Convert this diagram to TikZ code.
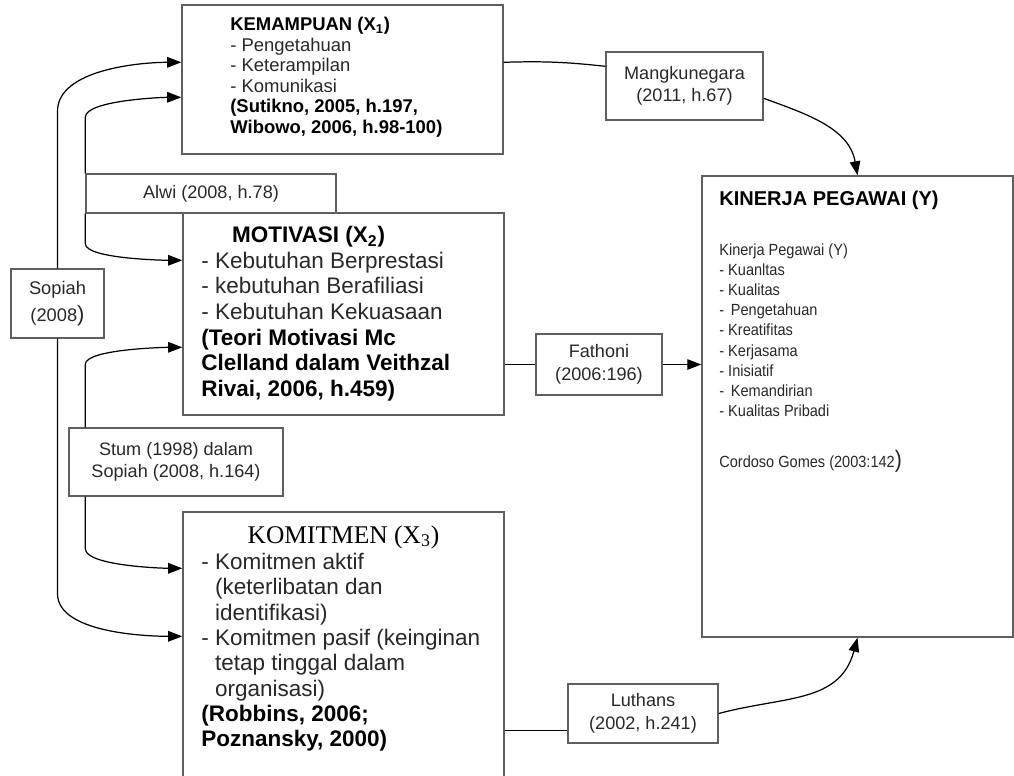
\documentclass[tikz,border=0pt]{standalone}
\usepackage{fontspec}
\setmainfont{Liberation Sans}
\newfontfamily\timesfont{Liberation Serif}
\newfontfamily\narrowfont[FakeStretch=0.9]{Liberation Sans}
\usetikzlibrary{arrows.meta,fit}
\definecolor{boxgray}{RGB}{95,95,95}
\definecolor{textgray}{RGB}{40,40,40}

\begin{document}
\begin{tikzpicture}[x=0.02cm, y=0.02cm,
                    main box/.style={draw=boxgray, line width=0.8pt, inner sep=0pt},
                    ref box/.style={draw=boxgray, line width=0.8pt, inner sep=0pt, align=center, text=textgray,
                                    font=\fontsize{10.3}{12.8}\selectfont},
                    box text/.style={anchor=north west, inner sep=0pt, align=left, text=textgray},
                    link/.style={line width=0.7pt},
                    arrow/.style={line width=0.7pt, -{Triangle[length=8pt,width=6pt]}}]

  \useasboundingbox (0,0) rectangle (1014,-775);
  \clip (0,0) rectangle (1014,-775);

  \node[main box, fit={(182,-5) (503,-154)}] (kem) {};
  \node[main box, fit={(183,-213) (504,-415)}] (mot) {};
  \node[main box, fit={(183,-512) (504,-800)}] (kom) {};
  \node[main box, fit={(702,-176) (1013,-637)}] (kin) {};

  \node[ref box, minimum width=5cm, minimum height=0.78cm] (alwi) at (211,-193.5) {Alwi (2008, h.78)};
  \node[ref box, minimum width=1.86cm, minimum height=1.38cm, font=\fontsize{10.4}{15.5}\selectfont] (sop) at (57.5,-303.5)
    {Sopiah\\(2008{\fontsize{12.5}{12.5}\selectfont)}};
  \node[ref box, minimum width=4.28cm, minimum height=1.36cm] (stum) at (176,-462) {Stum (1998) dalam\\Sopiah (2008, h.164)};
  \node[ref box, minimum width=3.14cm, minimum height=1.36cm] (mang) at (684.5,-86) {Mangkunegara\\(2011, h.67)};
  \node[ref box, minimum width=2.52cm, minimum height=1.22cm] (fat) at (599,-364.5) {Fathoni\\(2006:196)};
  \node[ref box, minimum width=3cm, minimum height=1.18cm] (lut) at (643,-713.5) {Luthans\\(2002, h.241)};

  \node[box text, font=\fontsize{10.5}{11.7}\selectfont] (kemtext) at (230,-17)
    {\textbf{\color{black}KEMAMPUAN (X\textsubscript{1})}\\
     - Pengetahuan\\
     - Keterampilan\\
     - Komunikasi\\
     \textbf{\color{black}(Sutikno, 2005, h.197,}\\
     \textbf{\color{black}Wibowo, 2006, h.98-100)}};

  \node[box text, font=\fontsize{12.8}{14.6}\selectfont] (mottext) at (201,-226)
    {\hspace*{17.5pt}\textbf{\color{black}MOTIVASI (X\textsubscript{2})}\\
     - Kebutuhan Berprestasi\\
     - kebutuhan Berafiliasi\\
     - Kebutuhan Kekuasaan\\
     \textbf{\color{black}(Teori Motivasi Mc}\\
     \textbf{\color{black}Clelland dalam Veithzal}\\
     \textbf{\color{black}Rivai, 2006, h.459)}};

  \node[anchor=base, inner sep=0pt, font=\timesfont\fontsize{14.5}{16}\selectfont] (komtitle) at (343.5,-543)
    {KOMITMEN (X\textsubscript{3})};
  \node[box text, font=\fontsize{12.8}{14.4}\selectfont] (komtext) at (201,-553)
    {- Komitmen aktif\\
     \phantom{- }(keterlibatan dan\\
     \phantom{- }identifikasi)\\
     - Komitmen pasif (keinginan\\
     \phantom{- }tetap tinggal dalam\\
     \phantom{- }organisasi)\\
     \textbf{\color{black}(Robbins, 2006;}\\
     \textbf{\color{black}Poznansky, 2000)}};

  \node[anchor=base west, inner sep=0pt, font=\bfseries\fontsize{11.4}{13}\selectfont] (kintitle) at (719,-205)
    {KINERJA PEGAWAI (Y)};
  \node[box text, font=\narrowfont\fontsize{9.2}{11.5}\selectfont] (kinlist) at (719,-243)
    {Kinerja Pegawai (Y)\\
     - Kuanltas\\
     - Kualitas\\
     - \,Pengetahuan\\
     - Kreatifitas\\
     - Kerjasama\\
     - Inisiatif\\
     - \,Kemandirian\\
     - Kualitas Pribadi};
  \node[anchor=base west, inner sep=0pt, text=textgray, font=\narrowfont\fontsize{9.2}{11.5}\selectfont] (kinref) at (719,-467)
    {Cordoso Gomes (2003:142{\fontsize{13.5}{13.5}\selectfont)}};

  \draw[arrow] (sop.north) -- ++(0,157) to[out=90, in=180, looseness=0.8] ([shift={(0,-58)}]kem.north west);
  \draw[arrow] (sop.south) -- ++(0,-255) to[out=-90, in=180, looseness=0.75] ([shift={(0,-125)}]kom.north west);
  \draw[arrow] (alwi.north west) -- ++(0,56) to[out=90, in=180, looseness=0.45] ([shift={(0,-93)}]kem.north west);
  \draw[arrow] (alwi.south west) -- ++(0,-30) to[out=-90, in=180, looseness=0.4] ([shift={(0,-48)}]mot.north west);
  \draw[arrow] ([shift={(17,0)}]stum.north west) -- ++(0,63) to[out=90, in=180, looseness=0.4] ([shift={(0,-135)}]mot.north west);
  \draw[arrow] ([shift={(17,0)}]stum.south west) -- ++(0,-52) to[out=-90, in=180, looseness=0.45] ([shift={(0,-57)}]kom.north west);

  \draw[link] ([shift={(0,-58)}]kem.north east) to[bend left=4] ([shift={(0,-15)}]mang.north west);
  \draw[arrow] ([shift={(0,-47)}]mang.north east) to[out=-20, in=100] (kin.north);
  \draw[link] (fat.west -| mot.east) -- (fat.west);
  \draw[arrow] (fat.east) -- (fat.east -| kin.west);
  \coordinate (lutin) at ([shift={(0,-47)}]lut.north west);
  \draw[link] (kom.east |- lutin) -- (lutin);
  \draw[arrow] (lut.east) to[out=15, in=-105, looseness=1.1] (kin.south);

\end{tikzpicture}
\end{document}
